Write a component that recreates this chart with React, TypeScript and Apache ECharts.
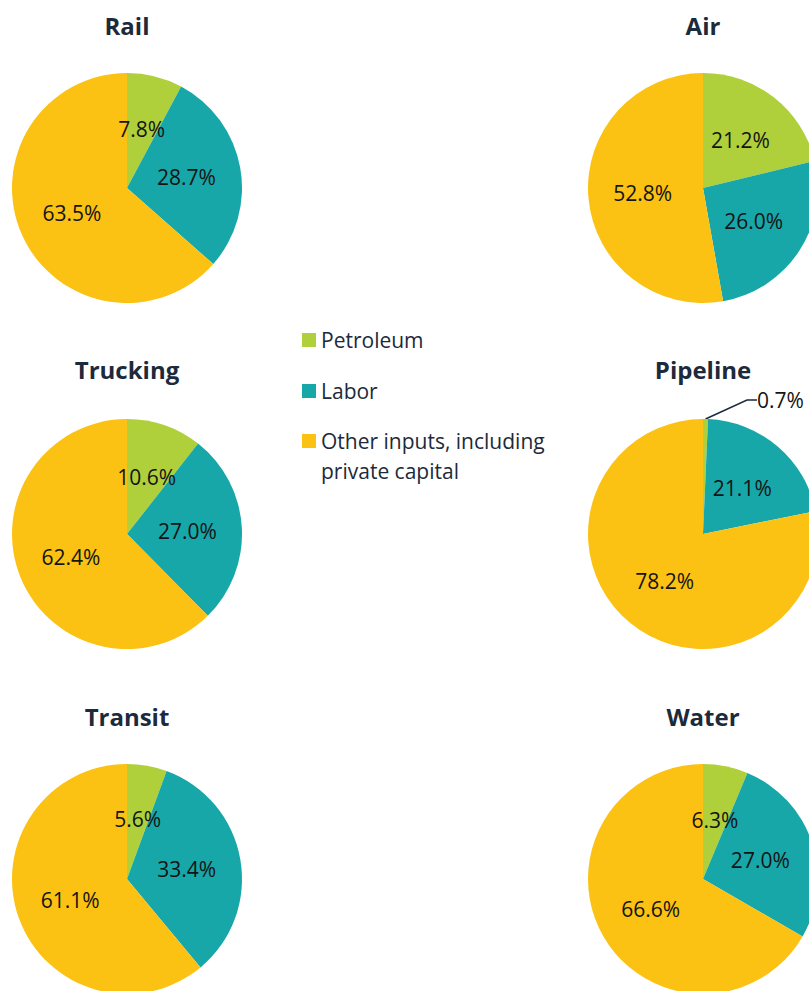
import React, { useEffect, useRef } from "react";
import * as echarts from "echarts";

const categories = ["Petroleum", "Labor", "Other inputs, including private capital"];
const modes = ["Rail", "Air", "Trucking", "Pipeline", "Transit", "Water"];
const petroleum = [7.8, 21.2, 10.6, 0.7, 5.6, 6.3];
const labor = [28.7, 26.0, 27.0, 21.1, 33.4, 27.0];
const otherInputs = [63.5, 52.8, 62.4, 78.2, 61.1, 66.6];

const COLORS = ["#afd03b", "#17a7a9", "#fbc213"];
const NAVY = "#1c2a3b";
const FONT = "'Open Sans', 'Noto Sans', sans-serif";

// layout: [center x, center y, title y]
const LAYOUT = [
  [127, 188, 25],
  [703, 188, 25],
  [127, 534, 369],
  [703, 534, 369],
  [127, 879, 716],
  [703, 879, 716],
];
const RADIUS = 115;

export default function App() {
  const ref = useRef<HTMLDivElement>(null);
  useEffect(() => {
    if (!ref.current) return;
    const chart = echarts.init(ref.current, undefined, { renderer: "svg" });
    const series = modes.map((mode, i) => {
      const [cx, cy] = LAYOUT[i];
      const vals = [petroleum[i], labor[i], otherInputs[i]];
      const smallOutside = mode === "Pipeline";
      return {
        type: "pie",
        name: mode,
        center: [cx, cy],
        radius: RADIUS,
        startAngle: 90,
        clockwise: true,
        avoidLabelOverlap: false,
        silent: true,
        emphasis: { disabled: true },
        label: {
          show: true,
          position: "inner",
          formatter: (p: any) => p.value.toFixed(1) + "%",
          fontSize: 21,
          fontFamily: FONT,
          color: "#141414",
        },
        labelLine: {
          show: false,
          length: 8,
          length2: 10,
          minTurnAngle: 0,
          maxSurfaceAngle: 180,
        },
        labelLayout: smallOutside
          ? (p: any) =>
              p.dataIndex === 0
                ? { x: 757, y: 400, align: "left", verticalAlign: "middle" }
                : {}
          : undefined,
        data: categories.map((c, k) => {
          const item: any = { name: c, value: vals[k], itemStyle: { color: COLORS[k] } };
          if (smallOutside && k === 0) {
            item.label = { position: "outside", color: "#141414" };
            item.labelLine = {
              show: true,
              length: 8,
              length2: 10,
              minTurnAngle: 0,
              maxSurfaceAngle: 180,
              lineStyle: { color: NAVY, width: 1.5 },
            };
          }
          return item;
        }),
      };
    });

    const titles = modes.map((mode, i) => ({
      type: "text",
      x: LAYOUT[i][0],
      y: LAYOUT[i][2],
      style: {
        text: mode,
        align: "center",
        verticalAlign: "middle",
        fontSize: 24,
        fontWeight: "bold",
        fontFamily: FONT,
        fill: NAVY,
      },
    }));

    chart.setOption({
      animation: false,
      color: COLORS,
      legend: [
        {
          orient: "vertical",
          left: 302,
          top: 328,
          padding: 0,
          itemGap: 27,
          itemWidth: 14,
          itemHeight: 14,
          icon: "rect",
          selectedMode: false,
          data: [categories[0], categories[1]],
          textStyle: { fontSize: 21, lineHeight: 24, color: NAVY, fontFamily: FONT },
        },
        {
          orient: "vertical",
          left: 302,
          top: 396,
          padding: 0,
          itemWidth: 14,
          itemHeight: 14,
          icon: "rect",
          selectedMode: false,
          data: [categories[2]],
          formatter: () => "\nOther inputs, including\nprivate capital",
          textStyle: { fontSize: 21, lineHeight: 30, color: NAVY, fontFamily: FONT },
        },
      ],
      graphic: titles,
      series,
    } as any);
    return () => chart.dispose();
  }, []);
  return (
    <div
      ref={ref}
      style={{ position: "fixed", left: 0, top: 0, width: 809, height: 991, background: "#fff" }}
    />
  );
}
